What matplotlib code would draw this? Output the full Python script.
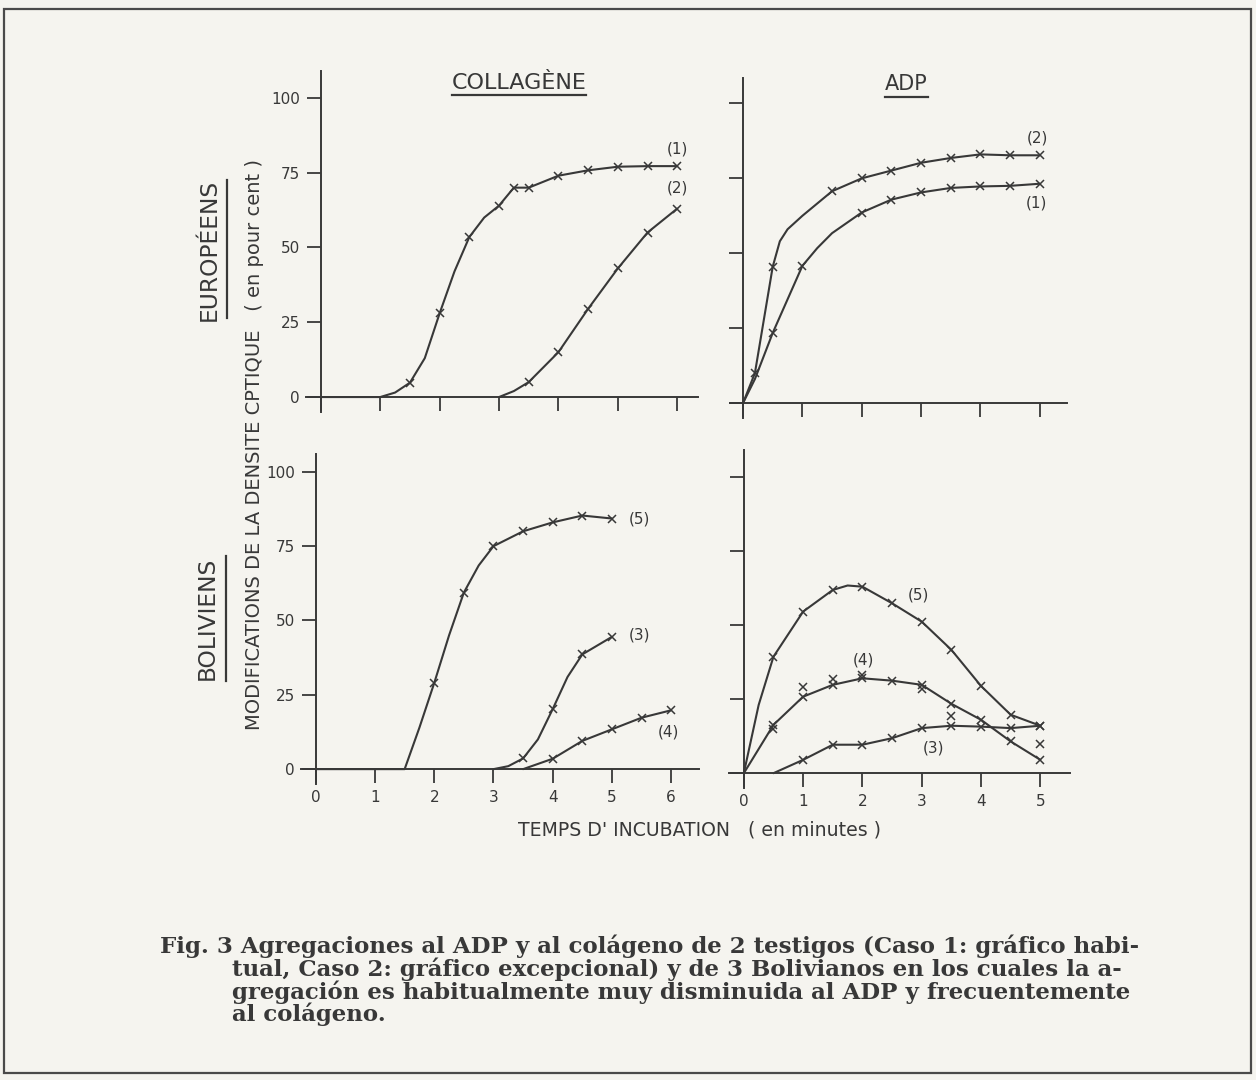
import matplotlib
matplotlib.use('Agg')
import matplotlib.pyplot as plt
from matplotlib.lines import Line2D
from matplotlib.patches import Rectangle

# values: time (min) vs change of optical density (%)
# m = 1 where the point carries an "x" marker, 0 = trace point of the drawn curve

# collagene, europeens
col_eu1_x = [0, 1.0, 1.25, 1.5, 1.75, 2.0, 2.25, 2.5, 2.75, 3.0, 3.25, 3.5, 4.0, 4.5, 5.0, 5.5, 6.0]
col_eu1_y = [0, 0, 1.5, 4.8, 13, 28, 42, 53.5, 60, 64, 70, 70, 74, 75.8, 77, 77.2, 77.2]
col_eu1_m = [0, 0, 0, 1, 0, 1, 0, 1, 0, 1, 1, 1, 1, 1, 1, 1, 1]
col_eu2_x = [3.0, 3.25, 3.5, 4.0, 4.5, 5.0, 5.5, 6.0]
col_eu2_y = [0, 2, 5, 15, 29.5, 43, 55, 63]
col_eu2_m = [0, 0, 1, 1, 1, 1, 1, 1]

# adp, europeens
adp_eu2_x = [0, 0.2, 0.5, 0.62, 0.75, 1.0, 1.5, 2.0, 2.5, 3.0, 3.5, 4.0, 4.5, 5.0]
adp_eu2_y = [0, 10, 45.5, 54, 58, 62.5, 70.7, 75, 77.6, 80.2, 81.8, 83, 82.7, 82.7]
adp_eu2_m = [0, 1, 1, 0, 0, 0, 1, 1, 1, 1, 1, 1, 1, 1]
adp_eu1_x = [0, 0.2, 0.5, 1.0, 1.25, 1.5, 2.0, 2.5, 3.0, 3.5, 4.0, 4.5, 5.0]
adp_eu1_y = [0, 8, 23.4, 45.8, 51.7, 56.7, 63.6, 67.9, 70.3, 71.8, 72.3, 72.5, 73.2]
adp_eu1_m = [0, 0, 1, 1, 0, 0, 1, 1, 1, 1, 1, 1, 1]

# collagene, boliviens
col_bo5_x = [0, 1.5, 1.75, 2.0, 2.25, 2.5, 2.75, 3.0, 3.5, 4.0, 4.5, 5.0]
col_bo5_y = [0, 0, 14, 29, 45, 59.4, 68.5, 75, 80, 83, 85.3, 84.3]
col_bo5_m = [0, 0, 0, 1, 0, 1, 0, 1, 1, 1, 1, 1]
col_bo3_x = [3.0, 3.25, 3.5, 3.75, 4.0, 4.25, 4.5, 5.0]
col_bo3_y = [0, 1, 3.6, 10, 20.2, 31, 38.6, 44.5]
col_bo3_m = [0, 0, 1, 0, 1, 0, 1, 1]
col_bo4_x = [3.5, 4.0, 4.5, 5.0, 5.5, 6.0]
col_bo4_y = [0, 3.5, 9.5, 13.4, 17.3, 19.8]
col_bo4_m = [0, 1, 1, 1, 1, 1]

# adp, boliviens
adp_bo5_x = [0, 0.25, 0.5, 1.0, 1.5, 1.75, 2.0, 2.5, 3.0, 3.5, 4.0, 4.5, 5.0]
adp_bo5_y = [0, 23, 39.3, 54.5, 61.8, 63.3, 62.9, 57.3, 51.1, 41.6, 29.4, 19.7, 16]
adp_bo5_m = [0, 0, 1, 1, 1, 0, 1, 1, 1, 1, 1, 1, 1]
adp_bo4_x = [0, 0.5, 1.0, 1.5, 2.0, 2.5, 3.0, 3.5, 4.0, 4.5, 5.0]
adp_bo4_y = [0, 16.3, 25.8, 29.8, 32, 31.2, 29.8, 23.4, 18, 10.7, 4.5]
adp_bo4_m = [0, 1, 1, 1, 1, 1, 1, 1, 1, 1, 1]
adp_bo3_x = [0.5, 1.0, 1.5, 2.0, 2.5, 3.0, 3.5, 4.0, 4.5, 5.0]
adp_bo3_y = [0, 4.5, 9.6, 9.6, 11.8, 15.2, 16, 15.7, 15.2, 16]
adp_bo3_m = [0, 1, 1, 1, 1, 1, 1, 1, 1, 1]
# repeated readings marked without a line
adp_bo_extra_x = [0.5, 1.0, 1.5, 2.0, 3.0, 3.5, 5.0]
adp_bo_extra_y = [14.8, 29, 31.7, 33, 28.3, 19.3, 9.9]

y_ticks = [0, 25, 50, 75, 100]
x_ticks_col = [0, 1, 2, 3, 4, 5, 6]
x_ticks_adp = [0, 1, 2, 3, 4, 5]

caption = [
    "Fig. 3 Agregaciones al ADP y al colágeno de 2 testigos (Caso 1: gráfico habi-",
    "tual, Caso 2: gráfico excepcional) y de 3 Bolivianos en los cuales la a-",
    "gregación es habitualmente muy disminuida al ADP y frecuentemente",
    "al colágeno.",
]

ink = '#383838'
paper = '#f5f4ef'
W, H = 1256, 1080

plt.rcParams['font.family'] = ['DejaVu Sans']

fig = plt.figure(figsize=(12.56, 10.8), dpi=100, facecolor=paper)


def px_box(x0, y0, x1, y1):
    # pixel box (top-left origin) -> figure fraction rect
    return [x0 / W, 1 - y1 / H, (x1 - x0) / W, (y1 - y0) / H]


def setup(ax, xlim, ylim, xticks, xlabels, ylabels):
    ax.set_facecolor('none')
    ax.set_xlim(*xlim)
    ax.set_ylim(*ylim)
    for s in ['top', 'right']:
        ax.spines[s].set_visible(False)
    ax.spines['left'].set_position(('data', 0))
    ax.spines['bottom'].set_position(('data', 0))
    for s in ['left', 'bottom']:
        ax.spines[s].set_color(ink)
        ax.spines[s].set_linewidth(1.4)
    ax.set_xticks(xticks)
    ax.set_yticks(y_ticks)
    if not xlabels:
        ax.set_xticklabels([])
    if not ylabels:
        ax.set_yticklabels([])
    ax.tick_params(axis='both', direction='out', length=10, width=1.3,
                   color=ink, labelcolor=ink, labelsize=11, pad=5)


def curve(ax, x, y, m):
    ax.plot(x, y, color=ink, lw=1.5, marker='x', ms=5.5, mew=1.1,
            markevery=[bool(v) for v in m], solid_capstyle='round')


def lab(ax, x, y, s):
    ax.text(x, y, s, color=ink, fontsize=11, ha='center', va='center')


ax_tl = fig.add_axes(px_box(306, 71, 698, 412))
setup(ax_tl, (-0.25, 6.35), (-5, 109), x_ticks_col, False, True)
curve(ax_tl, col_eu1_x, col_eu1_y, col_eu1_m)
curve(ax_tl, col_eu2_x, col_eu2_y, col_eu2_m)
lab(ax_tl, 6.0, 83, '(1)')
lab(ax_tl, 6.0, 70, '(2)')

ax_tr = fig.add_axes(px_box(730, 78, 1067, 418))
setup(ax_tr, (-0.22, 5.46), (-5, 108.5), x_ticks_adp, False, False)
curve(ax_tr, adp_eu2_x, adp_eu2_y, adp_eu2_m)
curve(ax_tr, adp_eu1_x, adp_eu1_y, adp_eu1_m)
lab(ax_tr, 4.97, 88.5, '(2)')
lab(ax_tr, 4.94, 66.7, '(1)')

ax_bl = fig.add_axes(px_box(301, 454, 699, 784))
setup(ax_bl, (-0.25, 6.47), (-5, 106), x_ticks_col, True, True)
curve(ax_bl, col_bo5_x, col_bo5_y, col_bo5_m)
curve(ax_bl, col_bo3_x, col_bo3_y, col_bo3_m)
curve(ax_bl, col_bo4_x, col_bo4_y, col_bo4_m)
lab(ax_bl, 5.47, 84, '(5)')
lab(ax_bl, 5.47, 45, '(3)')
lab(ax_bl, 5.96, 12.4, '(4)')

ax_br = fig.add_axes(px_box(729, 450, 1070, 788))
setup(ax_br, (-0.25, 5.5), (-5, 109), x_ticks_adp, True, False)
curve(ax_br, adp_bo5_x, adp_bo5_y, adp_bo5_m)
curve(ax_br, adp_bo4_x, adp_bo4_y, adp_bo4_m)
curve(ax_br, adp_bo3_x, adp_bo3_y, adp_bo3_m)
ax_br.plot(adp_bo_extra_x, adp_bo_extra_y, ls='none', marker='x', ms=5.5,
           mew=1.1, color=ink)
lab(ax_br, 2.95, 60, '(5)')
lab(ax_br, 2.02, 38.2, '(4)')
lab(ax_br, 3.2, 8.4, '(3)')


def ftext(x, y, s, **kw):
    fig.text(x / W, 1 - y / H, s, color=ink, **kw)


def fline(x0, y0, x1, y1, lw=1.6):
    fig.add_artist(Line2D([x0 / W, x1 / W], [1 - y0 / H, 1 - y1 / H],
                          transform=fig.transFigure, color=ink, lw=lw))


# column / row headings
ftext(519, 83, 'COLLAGÈNE', fontsize=16, ha='center', va='center')
fline(452, 95, 586, 95)
ftext(906, 84, 'ADP', fontsize=15, ha='center', va='center')
fline(885, 97, 928, 97)
ftext(209, 250, 'EUROPÉENS', fontsize=16.8, rotation=90, ha='center', va='center')
fline(227, 180, 227, 318)
ftext(207, 618, 'BOLIVIENS', fontsize=16.8, rotation=90, ha='center', va='center')
fline(226, 556, 226, 681)

# axis titles
ftext(254, 444, 'MODIFICATIONS DE LA DENSITE CPTIQUE   ( en pour cent )',
      fontsize=14, rotation=90, ha='center', va='center')
ftext(699, 830, "TEMPS D' INCUBATION   ( en minutes )", fontsize=13.6,
      ha='center', va='center')

# caption
cap_x = [160, 232, 232, 232]
cap_y = [946, 969, 992, 1014]
for i in range(len(caption)):
    ftext(cap_x[i], cap_y[i], caption[i], fontsize=16.5, family='DejaVu Serif',
          fontweight='bold', ha='left', va='center')

# scan frame
fig.add_artist(Rectangle((4 / W, 1 - 1073 / H), 1247 / W, 1064 / H,
                         transform=fig.transFigure, fill=False,
                         edgecolor='#4a4a4a', lw=1.6))

fig.savefig('out.png', dpi=100, facecolor=paper)
